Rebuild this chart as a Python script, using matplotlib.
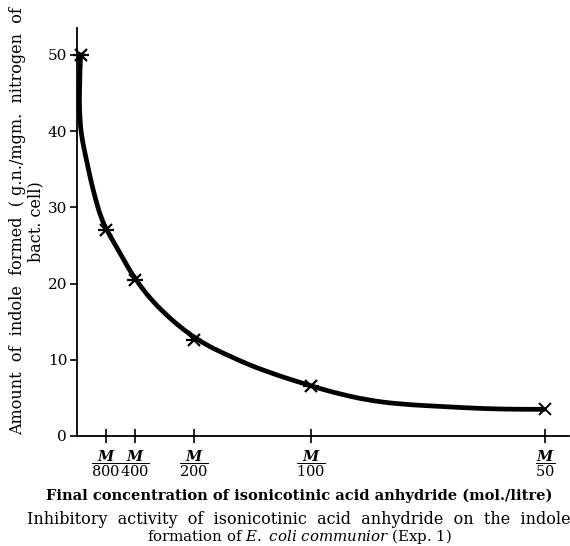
import matplotlib.pyplot as plt
from matplotlib.path import Path
from matplotlib.patches import PathPatch

plt.rcParams['font.family'] = 'DejaVu Serif'
plt.rcParams['mathtext.fontset'] = 'dejavuserif'

# concentration (mol./litre) and indole formed, measured points
conc = [0.000158, 1/800, 1/400, 1/200, 1/100, 1/50]
indole = [50.0, 27.0, 20.4, 12.6, 6.6, 3.5]

# smooth curve as drawn in the original
curve_x = [0.000158, 0.00009, 0.000128, 0.000227, 0.000372, 0.000586, 0.0008, 0.00101,
           0.00127, 0.00184, 0.00248, 0.00355, 0.00509, 0.00669, 0.00812, 0.00997,
           0.01097, 0.0124, 0.01383, 0.01568, 0.01739, 0.01882, 0.01996]
curve_y = [50.0, 45.4, 41.1, 38.8, 36.7, 33.6, 31.0, 28.8, 27.0, 24.0, 20.5, 16.5,
           12.6, 10.2, 8.4, 6.6, 5.7, 4.7, 4.16, 3.85, 3.58, 3.5, 3.5]

xticks = [1/800, 1/400, 1/200, 1/100, 1/50]
xtick_labels = [r'$\dfrac{\mathbfit{M}}{800}$', r'$\dfrac{\mathbfit{M}}{400}$',
                r'$\dfrac{\mathbfit{M}}{200}$', r'$\dfrac{\mathbfit{M}}{100}$',
                r'$\dfrac{\mathbfit{M}}{50}$']
yticks = [0, 10, 20, 30, 40, 50]

fig = plt.figure(figsize=(5.7, 5.46), dpi=100)
ax = fig.add_axes([0.135, 0.2015, 0.863, 0.747])

# hand-drawn curve: read points used as quadratic bezier controls
pts = list(zip(curve_x, curve_y))
verts = [pts[0]]
codes = [Path.MOVETO]
for i in range(1, len(pts) - 1):
    mid = ((pts[i][0] + pts[i + 1][0]) / 2, (pts[i][1] + pts[i + 1][1]) / 2)
    verts += [pts[i], mid]
    codes += [Path.CURVE3, Path.CURVE3]
verts.append(pts[-1])
codes.append(Path.LINETO)
ax.add_patch(PathPatch(Path(verts, codes), facecolor='none', edgecolor='black',
                       linewidth=3.4, capstyle='round', joinstyle='round', clip_on=False))

# markers: x with a bar through it
ax.plot(conc[:-1], indole[:-1], linestyle='none', marker='x', markersize=8,
        markeredgewidth=1.6, color='black', clip_on=False)
ax.plot(conc[:-1], indole[:-1], linestyle='none', marker='_', markersize=11,
        markeredgewidth=1.6, color='black', clip_on=False)
ax.plot(conc[-1:], indole[-1:], linestyle='none', marker='x', markersize=8,
        markeredgewidth=1.4, color='black', clip_on=False)

ax.set_xlim(0, 0.02102)
ax.set_ylim(0, 53.5)
ax.set_xticks(xticks)
ax.set_xticklabels(xtick_labels, fontsize=10.5)
ax.set_yticks(yticks)
ax.set_yticklabels([str(v) for v in yticks], fontsize=11)
ax.tick_params(axis='x', direction='inout', length=10, width=1.2, pad=4)
ax.tick_params(axis='y', direction='out', length=5, width=1.2, pad=2)

for s in ['top', 'right']:
    ax.spines[s].set_visible(False)
for s in ['left', 'bottom']:
    ax.spines[s].set_linewidth(1.3)

fig.text(0.047, 0.595,
         'Amount  of  indole  formed  ( g.n./mgm.  nitrogen  of\nbact. cell)',
         rotation=90, ha='center', va='center', fontsize=11.5, linespacing=1.05,
         multialignment='center')

fig.text(0.525, 0.092, 'Final concentration of isonicotinic acid anhydride (mol./litre)',
         ha='center', va='center', fontsize=10.5, fontweight='bold')
fig.text(0.525, 0.048,
         'Inhibitory  activity  of  isonicotinic  acid  anhydride  on  the  indole',
         ha='center', va='center', fontsize=11.5)
fig.text(0.525, 0.017, r'formation of $\mathit{E.\ coli\ communior}$ (Exp. 1)',
         ha='center', va='center', fontsize=10.8)

plt.savefig('out.png', dpi=100)
